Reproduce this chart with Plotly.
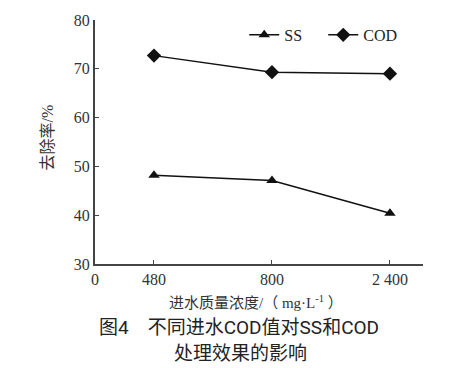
import plotly.graph_objects as go

categories = ["480", "800", "2 400"]
ss_values = [48.2, 47.1, 40.4]
cod_values = [72.7, 69.3, 69.0]
y_ticks = [30, 40, 50, 60, 70, 80]

x_pos = [0, 1, 2]

fig = go.Figure()
fig.add_trace(go.Scatter(
    x=x_pos, y=ss_values, name="SS", mode="lines+markers",
    line=dict(color="#111", width=1.5),
    marker=dict(symbol="triangle-up", size=10, color="#111"),
))
fig.add_trace(go.Scatter(
    x=x_pos, y=cod_values, name="COD", mode="lines+markers",
    line=dict(color="#111", width=1.5),
    marker=dict(symbol="diamond", size=11, color="#111"),
))

serif = "Liberation Serif, Times New Roman, serif"
mixed = "Liberation Serif, Noto Sans CJK SC, serif"
caption = "Roboto, Noto Sans CJK SC, sans-serif"

# page body has an 8px default margin; figure is sized so that the
# plot sits where the reference puts it
fig.update_layout(
    width=467, height=360,
    margin=dict(l=87, r=52, t=12, b=104, autoexpand=False),
    paper_bgcolor="white", plot_bgcolor="white",
    showlegend=True,
    legend=dict(orientation="h", x=0.455, y=0.939, xanchor="left", yanchor="middle",
                font=dict(family=serif, size=16, color="#222"),
                bgcolor="rgba(0,0,0,0)", itemwidth=30, tracegroupgap=0,
                entrywidth=34, entrywidthmode="pixels"),
    xaxis=dict(range=[-0.5, 2.28], tickmode="array",
               tickvals=[-0.5] + x_pos, ticktext=["0"] + categories,
               ticks="inside", ticklen=4, tickcolor="#444",
               showline=True, linecolor="#444", linewidth=2,
               showgrid=False, zeroline=False,
               tickfont=dict(family=serif, size=16, color="#333")),
    yaxis=dict(range=[30, 80], tickmode="array", tickvals=y_ticks,
               ticks="inside", ticklen=4, tickcolor="#444",
               showline=True, linecolor="#444", linewidth=2,
               showgrid=False, zeroline=False,
               tickfont=dict(family=serif, size=16, color="#333")),
    annotations=[
        dict(text="去除率/%", xref="paper", yref="paper", x=-0.145, y=0.52,
             xanchor="center", yanchor="middle", textangle=-90, showarrow=False,
             font=dict(family=mixed, size=16, color="#333")),
        dict(text="进水质量浓度/（ mg·L<sup>-1</sup> ）", xref="paper", yref="paper",
             x=0.49, y=-0.156, xanchor="center", yanchor="middle", showarrow=False,
             font=dict(family=mixed, size=15, color="#333")),
        dict(text="图4　不同进水COD值对SS和COD", xref="paper", yref="paper",
             x=0.438, y=-0.262, xanchor="center", yanchor="middle", showarrow=False,
             font=dict(family=caption, size=19, color="#222")),
        dict(text="处理效果的影响", xref="paper", yref="paper",
             x=0.445, y=-0.365, xanchor="center", yanchor="middle", showarrow=False,
             font=dict(family=caption, size=19, color="#222")),
    ],
)

fig.write_html("out.html")
